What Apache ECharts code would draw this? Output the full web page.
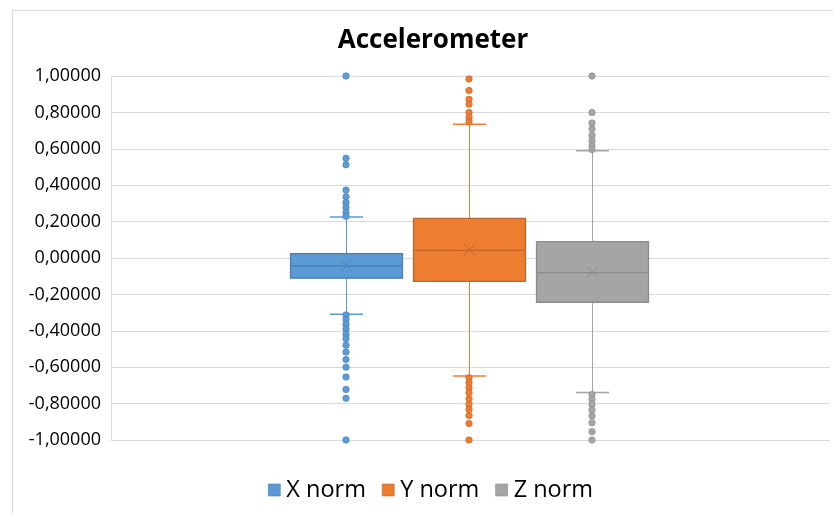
<!DOCTYPE html>
<html>
<head>
<meta charset="utf-8">
<script src="https://cdn.jsdelivr.net/npm/echarts@6/dist/echarts.min.js"></script>
<style>html,body{margin:0;padding:0;background:#fff;}#c{width:833px;height:513px;}</style>
</head>
<body>
<div id="c"></div>
<script>
// ---- data ----
const categories = ['X norm', 'Y norm', 'Z norm'];
// [low whisker, Q1, median, Q3, high whisker, mean]
const xStats = [-0.309, -0.111, -0.044, 0.024, 0.225, -0.042];
const yStats = [-0.649, -0.128, 0.042, 0.218, 0.735, 0.045];
const zStats = [-0.739, -0.243, -0.080, 0.090, 0.589, -0.078];
const xOutliers = [1.0, 0.548, 0.512, 0.373, 0.336, 0.305, 0.278, 0.250, 0.230,
  -0.313, -0.338, -0.366, -0.391, -0.419, -0.444, -0.479, -0.517, -0.558, -0.600, -0.654, -0.722, -0.771, -1.0];
const yOutliers = [0.984, 0.920, 0.872, 0.845, 0.799, 0.771, 0.748,
  -0.658, -0.686, -0.713, -0.740, -0.773, -0.804, -0.832, -0.865, -0.909, -1.0];
const zOutliers = [1.0, 0.799, 0.742, 0.709, 0.673, 0.644, 0.616, 0.596,
  -0.750, -0.777, -0.804, -0.835, -0.868, -0.905, -0.954, -1.0];
const yMin = -1, yMax = 1, yInterval = 0.2;

const fills = ['#5B9BD5', '#ED7D31', '#A5A5A5'];
const borders = ['#4A7EBB', '#C0652A', '#8C8C8C'];
const statsList = [xStats, yStats, zStats];
const outlierList = [xOutliers, yOutliers, zOutliers];

function fmt(v) {
  if (Math.abs(v) < 1e-9) v = 0;
  return v.toFixed(5).replace('.', ',');
}

function makeRender(k) {
  return function (params, api) {
    const c = api.value(0);
    const low = api.coord([c, api.value(1)]);
    const q1 = api.coord([c, api.value(2)]);
    const med = api.coord([c, api.value(3)]);
    const q3 = api.coord([c, api.value(4)]);
    const high = api.coord([c, api.value(5)]);
    const mean = api.coord([c, api.value(6)]);
    const x = Math.round(low[0]) + 0.5;
    const bw = api.size([1, 0])[0] * 0.91;
    const cap = 16.5;
    const mk = 5.5;
    const wl = { stroke: fills[k], lineWidth: 1 };
    const dl = { stroke: borders[k], lineWidth: 1.3 };
    return {
      type: 'group',
      children: [
        { type: 'line', shape: { x1: x, y1: q3[1], x2: x, y2: high[1] }, style: wl },
        { type: 'line', shape: { x1: x, y1: q1[1], x2: x, y2: low[1] }, style: wl },
        { type: 'line', shape: { x1: x - cap, y1: high[1], x2: x + cap, y2: high[1] }, style: { stroke: fills[k], lineWidth: 1.5 } },
        { type: 'line', shape: { x1: x - cap, y1: low[1], x2: x + cap, y2: low[1] }, style: { stroke: fills[k], lineWidth: 1.5 } },
        { type: 'rect', shape: { x: x - bw / 2, y: q3[1], width: bw, height: q1[1] - q3[1] }, style: { fill: fills[k], stroke: borders[k], lineWidth: 1.3 } },
        { type: 'line', shape: { x1: x - bw / 2, y1: med[1], x2: x + bw / 2, y2: med[1] }, style: dl },
        { type: 'line', shape: { x1: x - mk, y1: mean[1] - mk, x2: x + mk, y2: mean[1] + mk }, style: { stroke: borders[k], lineWidth: 1 } },
        { type: 'line', shape: { x1: x - mk, y1: mean[1] + mk, x2: x + mk, y2: mean[1] - mk }, style: { stroke: borders[k], lineWidth: 1 } }
      ]
    };
  };
}

const series = [];
categories.forEach(function (name, k) {
  series.push({
    name: name,
    type: 'custom',
    xAxisIndex: 1, yAxisIndex: 1,
    itemStyle: { color: fills[k] },
    encode: { x: 0, y: [1, 2, 3, 4, 5, 6] },
    renderItem: makeRender(k),
    data: [[k].concat(statsList[k])],
    z: 2
  });
});
categories.forEach(function (name, k) {
  series.push({
    name: name,
    type: 'scatter',
    xAxisIndex: 1, yAxisIndex: 1,
    symbol: 'circle',
    symbolSize: 6.5,
    itemStyle: { color: fills[k], borderColor: borders[k], borderWidth: 0.6, opacity: 1 },
    data: outlierList[k].map(function (v) { return [k, v]; }),
    z: 3,
    silent: true
  });
});

const chart = echarts.init(document.getElementById('c'), null, { renderer: 'canvas' });
chart.setOption({
  animation: false,
  backgroundColor: '#fff',
  title: {
    text: 'Accelerometer',
    left: 428, top: 23, textAlign: 'center',
    textStyle: { fontFamily: 'Open Sans', fontWeight: 'bold', fontSize: 26, color: '#000' }
  },
  graphic: [{
    type: 'rect', silent: true,
    shape: { x: 12.5, y: 10.5, width: 900, height: 700 },
    style: { fill: 'none', stroke: '#D9D9D9', lineWidth: 1 }
  }],
  legend: {
    left: 263, top: 473,
    itemWidth: 12, itemHeight: 12, itemGap: 16,
    icon: 'rect',
    data: categories.map(function (n, k) { return { name: n, itemStyle: { color: fills[k], borderColor: borders[k], borderWidth: 0.6 } }; }),
    textStyle: { fontFamily: 'Open Sans', fontSize: 23.5, color: '#000', padding: [0, 0, 0, 1] }
  },
  grid: [
    { left: 111, right: 3, top: 76, bottom: 73 },
    { left: 284.5, width: 369, top: 76, bottom: 73 }
  ],
  xAxis: [
    { type: 'category', gridIndex: 0, data: [''], show: false },
    { type: 'category', gridIndex: 1, data: categories, show: false }
  ],
  yAxis: [
    {
      type: 'value', gridIndex: 0, min: yMin, max: yMax, interval: yInterval,
      axisLine: { show: true, lineStyle: { color: '#D9D9D9' } },
      axisTick: { show: false },
      splitLine: { lineStyle: { color: '#D9D9D9', width: 1 } },
      axisLabel: { formatter: fmt, fontFamily: 'Open Sans', fontSize: 18, color: '#000', margin: 10 }
    },
    {
      type: 'value', gridIndex: 1, min: yMin, max: yMax, interval: yInterval, show: false,
      splitLine: { show: false }
    }
  ],
  series: series
});
</script>
</body>
</html>
